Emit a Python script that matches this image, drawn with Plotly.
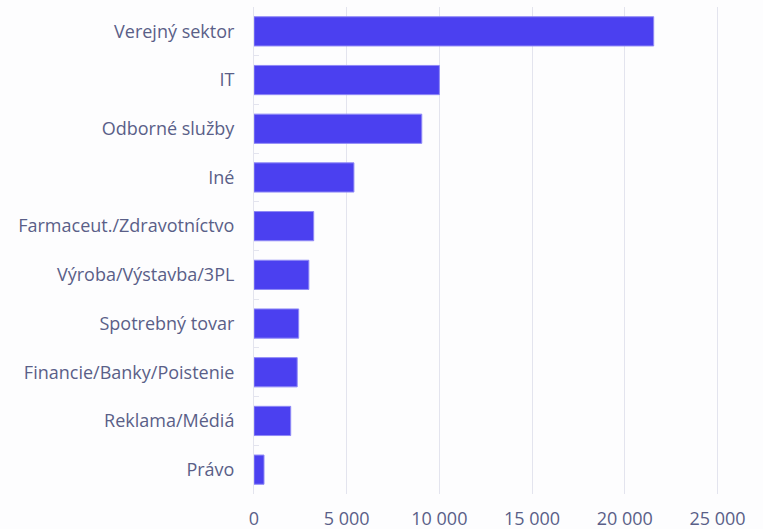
import plotly.graph_objects as go

categories = [
    "Verejný sektor",
    "IT",
    "Odborné služby",
    "Iné",
    "Farmaceut./Zdravotníctvo",
    "Výroba/Výstavba/3PL",
    "Spotrebný tovar",
    "Financie/Banky/Poistenie",
    "Reklama/Médiá",
    "Právo",
]
values = [21560, 10000, 9050, 5390, 3220, 2960, 2410, 2330, 1980, 540]
x_ticks = [0, 5000, 10000, 15000, 20000, 25000]
x_tick_labels = ["0", "5 000", "10 000", "15 000", "20 000", "25 000"]

text_color = "#5a5f88"
grid_color = "#e3e4ee"

fig = go.Figure(
    go.Bar(
        x=values,
        y=categories,
        orientation="h",
        marker=dict(color="#4b40f0", line=dict(color="#8f89f6", width=1)),
        hoverinfo="x+y",
    )
)

fig.update_layout(
    width=763,
    height=529,
    margin=dict(l=254, r=27, t=7, b=35),
    paper_bgcolor="#fdfdfe",
    plot_bgcolor="#fdfdfe",
    bargap=0.4,
    showlegend=False,
    font=dict(family="Open Sans", size=18, color=text_color),
)

fig.update_xaxes(
    range=[0, 26000],
    tickvals=x_ticks,
    ticktext=x_tick_labels,
    showgrid=True,
    gridcolor=grid_color,
    gridwidth=1,
    zeroline=False,
    ticks="",
    tickfont=dict(size=18, color=text_color),
    ticklabelstandoff=12,
    automargin=False,
)

fig.update_yaxes(
    categoryorder="array",
    categoryarray=categories,
    autorange="reversed",
    showline=True,
    linecolor=grid_color,
    linewidth=1,
    ticks="inside",
    tickson="boundaries",
    ticklen=5,
    tickcolor=grid_color,
    tickfont=dict(size=18, color=text_color),
    ticklabelstandoff=15,
    showgrid=False,
    automargin=False,
)

fig.write_html("out.html")
